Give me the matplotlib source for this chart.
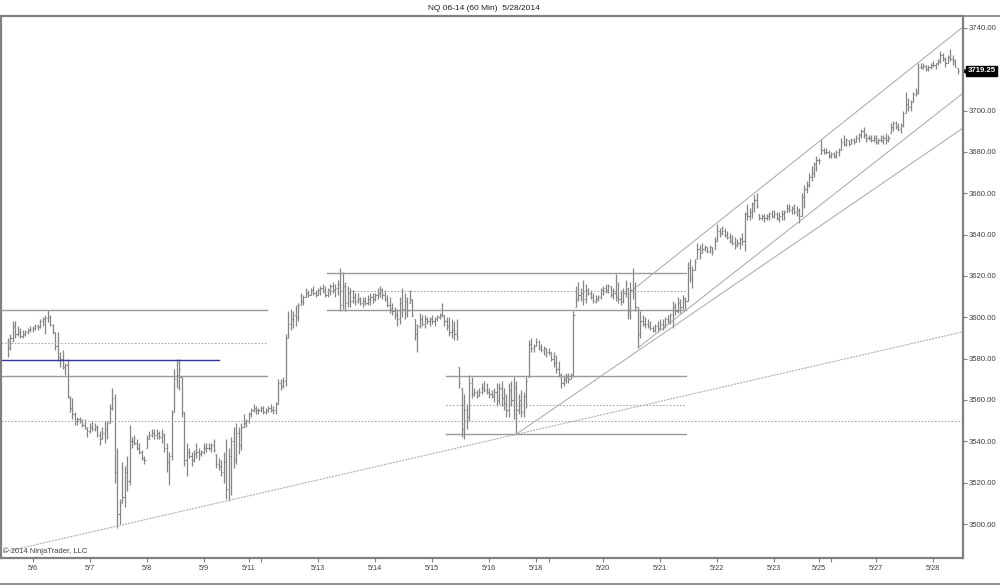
import numpy as np
import matplotlib.pyplot as plt
from matplotlib.lines import Line2D

plt.rcParams['font.family'] = ['Liberation Sans', 'DejaVu Sans']

# 60 min bars NQ 06-14, 5/5 - 5/28/2014
bar_open = [
    3588, 3585, 3590, 3596, 3592, 3593, 3591, 3592, 3593, 3594,
    3594.5, 3595, 3596, 3595.5, 3598, 3599, 3599.5, 3600, 3596.5, 3593,
    3586, 3581, 3580, 3576, 3577, 3561, 3556, 3553, 3550, 3551,
    3550, 3548, 3546, 3545, 3547, 3546, 3547, 3543, 3541, 3544,
    3546, 3549, 3556, 3561, 3525, 3505, 3510, 3513, 3525, 3521,
    3540, 3540, 3539, 3537, 3535, 3532, 3537, 3541, 3543, 3544,
    3543, 3544, 3542, 3543, 3537, 3530, 3533, 3554, 3570, 3572,
    3571, 3554, 3531, 3535, 3533, 3531, 3534, 3535, 3534, 3535,
    3537, 3537, 3537, 3538, 3534, 3529, 3528, 3525, 3530, 3517,
    3533, 3540, 3531, 3544, 3538, 3547, 3549, 3550, 3553, 3555,
    3556, 3555, 3555, 3556, 3554, 3555, 3556, 3555, 3555, 3558,
    3568, 3567, 3569, 3590, 3597, 3599, 3601, 3600, 3606, 3608,
    3610, 3612, 3611, 3613, 3612, 3611, 3613, 3614, 3613, 3611,
    3613, 3615, 3613, 3614, 3616, 3606, 3615, 3607, 3612, 3608,
    3610, 3608, 3609, 3607, 3608, 3607, 3609, 3610, 3609, 3611,
    3612, 3613, 3611, 3609, 3606, 3604, 3603, 3601, 3599, 3607,
    3604, 3608, 3607, 3609, 3599, 3592, 3596, 3599, 3597, 3599,
    3598, 3599, 3598, 3599, 3600, 3601, 3601, 3598, 3596, 3593,
    3594, 3592, 3576, 3566, 3546, 3555, 3552, 3568, 3563, 3564,
    3562, 3564, 3566, 3565, 3564, 3563, 3562, 3564, 3560, 3566,
    3561, 3558, 3555, 3565, 3560, 3566, 3555, 3560, 3554, 3562,
    3571, 3587, 3585, 3586, 3588, 3585, 3584, 3585, 3583, 3583,
    3580, 3578, 3575, 3572, 3568, 3570, 3571, 3570, 3572, 3605,
    3609, 3611, 3612, 3609, 3613, 3612, 3610, 3608, 3609, 3610,
    3613, 3614, 3613, 3615, 3611, 3612, 3610, 3609, 3608, 3612,
    3614, 3603, 3613, 3614, 3605, 3592, 3598, 3597, 3597, 3596,
    3595, 3594, 3596, 3595, 3597, 3596, 3599, 3598, 3601, 3605,
    3603, 3607, 3605, 3609, 3608, 3624, 3619, 3623, 3628, 3633,
    3631, 3633, 3634, 3632, 3634, 3633, 3637, 3642, 3641, 3642,
    3640, 3639, 3637, 3636, 3635, 3636, 3638, 3637, 3650, 3649,
    3651, 3655, 3657, 3650, 3648, 3649, 3648, 3649, 3650, 3649,
    3650, 3648, 3649, 3650, 3651, 3653, 3652, 3653, 3651, 3652,
    3649, 3658, 3662, 3664, 3668, 3670, 3674, 3676, 3679, 3681,
    3680, 3680, 3678, 3679, 3678, 3680, 3681, 3685, 3684, 3686,
    3684, 3686, 3685, 3687, 3688, 3690, 3688, 3687, 3687, 3686,
    3687, 3685, 3686, 3686, 3687, 3686, 3689, 3692, 3694, 3692,
    3691, 3693, 3699, 3703, 3702, 3704, 3708, 3709, 3721, 3721,
    3721.5, 3720, 3721, 3722, 3722, 3723, 3724, 3727, 3725, 3723,
    3726, 3725, 3724, 3720.5,
]
bar_high = [
    3590, 3592, 3598, 3598, 3596, 3595, 3594, 3594, 3595, 3596,
    3596, 3597, 3597, 3599, 3600, 3601, 3603.75, 3601, 3597, 3593,
    3593, 3583, 3584, 3578, 3580, 3562, 3561, 3554, 3552, 3552,
    3551, 3551, 3547, 3549, 3550, 3549, 3548, 3545, 3547, 3550,
    3550, 3558, 3566, 3563, 3537, 3512, 3530, 3528, 3533, 3548,
    3542, 3543, 3541, 3539, 3536, 3533, 3543, 3545, 3546, 3546,
    3546, 3545, 3546, 3544, 3539, 3535, 3555, 3575, 3580, 3580,
    3571, 3554, 3539, 3537, 3535, 3536, 3539, 3537, 3536, 3539,
    3539, 3539, 3539, 3541, 3534, 3532, 3531, 3535, 3541, 3537,
    3542, 3547, 3549, 3547, 3549, 3553, 3551, 3554, 3556, 3558,
    3557, 3556, 3557, 3557, 3556, 3557, 3558, 3557, 3559, 3570,
    3570, 3571, 3592, 3603, 3604, 3603, 3606, 3607, 3612, 3611,
    3614, 3613, 3614, 3615, 3613, 3614, 3615, 3616, 3615, 3614,
    3616, 3617, 3616, 3618, 3624, 3622, 3617, 3615, 3614, 3613,
    3612, 3612, 3610, 3610, 3610, 3611, 3612, 3612, 3612, 3614,
    3615, 3614, 3613, 3611, 3610, 3607, 3605, 3604, 3610, 3614,
    3612, 3610, 3613, 3609, 3599, 3597, 3602, 3601, 3601, 3600,
    3600, 3601, 3600, 3601, 3602, 3607, 3601, 3600, 3600, 3599,
    3598, 3599, 3576, 3566, 3563, 3558, 3572, 3571, 3566, 3565,
    3566, 3568, 3569, 3568, 3566, 3565, 3566, 3568, 3568, 3569,
    3566, 3563, 3568, 3569, 3571, 3569, 3563, 3565, 3564, 3571,
    3589, 3590, 3587, 3590, 3589, 3587, 3586, 3585, 3585, 3583,
    3583, 3582, 3579, 3573, 3572, 3573, 3573, 3573, 3603, 3615,
    3617, 3614, 3618, 3616, 3614, 3613, 3612, 3611, 3611, 3614,
    3615, 3616, 3616, 3615, 3614, 3621, 3617, 3613, 3614, 3618,
    3614, 3617, 3624, 3617, 3605, 3603, 3601, 3600, 3599, 3598,
    3596, 3597, 3598, 3599, 3599, 3600, 3601, 3602, 3608, 3607,
    3610, 3609, 3611, 3610, 3627, 3628, 3625, 3628, 3636, 3635,
    3636, 3635, 3634, 3635, 3634, 3639, 3645, 3643, 3644, 3643,
    3642, 3641, 3640, 3639, 3638, 3639, 3641, 3651, 3655, 3653,
    3656, 3659, 3660, 3650, 3650, 3650, 3650, 3651, 3652, 3652,
    3651, 3651, 3652, 3652, 3655, 3655, 3654, 3655, 3654, 3653,
    3660, 3664, 3666, 3670, 3673, 3675, 3678, 3677, 3686.5, 3682,
    3682, 3681, 3680, 3680, 3681, 3682, 3687, 3688, 3687, 3686,
    3687, 3687, 3688, 3689, 3691, 3692, 3689, 3688, 3688, 3688,
    3688, 3687, 3688, 3688, 3689, 3688, 3694, 3695, 3695, 3694,
    3694, 3700, 3709, 3706, 3705, 3709, 3711, 3723, 3723, 3723,
    3722, 3722, 3723, 3724, 3723, 3725, 3729, 3728, 3726, 3727,
    3730, 3727, 3725, 3720.5,
]
bar_low = [
    3581, 3584, 3588, 3590, 3591, 3590, 3590, 3591, 3592, 3593,
    3593, 3594, 3594, 3595, 3596, 3592, 3597.5, 3596, 3592, 3584,
    3579, 3576, 3575, 3572, 3561, 3554, 3551, 3548, 3548, 3549,
    3547, 3546, 3542, 3544, 3545, 3545, 3542, 3538, 3541, 3539,
    3541, 3549, 3555, 3520, 3498, 3500, 3510, 3508, 3516, 3519,
    3537, 3538, 3536, 3534, 3531, 3529, 3537, 3541, 3542, 3541,
    3541, 3541, 3539, 3535, 3525, 3519, 3531, 3554, 3566, 3565,
    3552, 3528, 3523, 3532, 3528, 3530, 3532, 3531, 3533, 3534,
    3535, 3536, 3535, 3535, 3527, 3526, 3523, 3520, 3512, 3511,
    3514, 3527, 3529, 3534, 3536, 3547, 3547, 3549, 3552, 3554,
    3553, 3553, 3554, 3553, 3553, 3554, 3554, 3553, 3553, 3558,
    3565, 3566, 3567, 3590, 3594, 3595, 3596, 3598, 3606, 3606,
    3610, 3610, 3611, 3611, 3610, 3611, 3611, 3612, 3610, 3610,
    3611, 3612, 3610, 3611, 3603, 3604, 3603, 3605, 3605, 3607,
    3606, 3607, 3606, 3605, 3606, 3606, 3606, 3607, 3608, 3609,
    3610, 3609, 3608, 3605, 3602, 3601, 3599, 3596, 3597, 3600,
    3599, 3600, 3607, 3600, 3589, 3583, 3595, 3596, 3595, 3597,
    3596, 3597, 3596, 3598, 3599, 3600, 3596, 3594, 3591, 3590,
    3589, 3589, 3566, 3542, 3541, 3546, 3550, 3561, 3562, 3561,
    3562, 3563, 3564, 3563, 3561, 3561, 3559, 3557, 3558, 3557,
    3555, 3552, 3552, 3557, 3551, 3543.75, 3553, 3552, 3552, 3556,
    3571, 3583, 3583, 3586, 3584, 3583, 3582, 3581, 3582, 3579,
    3576, 3573, 3571, 3566, 3567, 3568, 3568, 3570, 3571, 3605,
    3608, 3608, 3606, 3607, 3611, 3609, 3607, 3607, 3608, 3609,
    3611, 3612, 3612, 3610, 3609, 3608, 3607, 3606, 3607, 3610,
    3599, 3599, 3609, 3603, 3585, 3590, 3596, 3595, 3595, 3594,
    3593, 3593, 3593, 3594, 3594, 3595, 3597, 3597, 3595, 3601,
    3602, 3602, 3604, 3604, 3608, 3617, 3614, 3623, 3628, 3628,
    3631, 3632, 3631, 3631, 3630, 3633, 3637, 3639, 3640, 3639,
    3638, 3636, 3635, 3633, 3634, 3633, 3635, 3632, 3647, 3647,
    3648, 3651, 3653, 3647, 3647, 3646, 3647, 3647, 3648, 3648,
    3647, 3646, 3647, 3647, 3651, 3651, 3650, 3650, 3649, 3645.5,
    3649, 3653, 3660, 3663, 3666, 3668, 3671, 3674, 3679, 3679,
    3679, 3677, 3677, 3677, 3677, 3678, 3681, 3683, 3683, 3683,
    3684, 3684, 3685, 3685, 3687, 3687, 3685, 3686, 3685, 3685,
    3684, 3684, 3685, 3684, 3684, 3685, 3689, 3690, 3691, 3690,
    3689, 3692, 3699, 3700, 3700, 3704, 3707, 3708, 3720, 3720,
    3719, 3719, 3720, 3721, 3720, 3722, 3723, 3724, 3721, 3723,
    3724, 3722, 3721, 3717.5,
]
bar_close = [
    3585, 3590, 3596, 3592, 3593, 3591, 3592, 3593, 3594, 3594.5,
    3595, 3596, 3595.5, 3598, 3599, 3599.5, 3600, 3596.5, 3593, 3586,
    3581, 3580, 3576, 3577, 3562, 3556, 3553, 3550, 3551, 3550,
    3548, 3547, 3545, 3547, 3546, 3547, 3543, 3541, 3544, 3546,
    3549, 3556, 3561, 3525, 3505, 3509, 3513, 3525, 3521, 3540,
    3540, 3539, 3537, 3535, 3532, 3531, 3541, 3543, 3544, 3543,
    3544, 3542, 3543, 3537, 3530, 3533, 3553, 3570, 3572, 3575,
    3554, 3531, 3535, 3533, 3531, 3534, 3535, 3534, 3535, 3537,
    3537, 3537, 3538, 3536, 3529, 3528, 3525, 3530, 3517, 3533,
    3540, 3531, 3544, 3538, 3547, 3549, 3550, 3553, 3555, 3556,
    3555, 3555, 3556, 3554, 3555, 3556, 3555, 3555, 3558, 3568,
    3567, 3569, 3590, 3597, 3599, 3601, 3600, 3606, 3608, 3610,
    3612, 3611, 3613, 3612, 3611, 3613, 3614, 3613, 3611, 3613,
    3615, 3613, 3614, 3616, 3606, 3615, 3607, 3612, 3608, 3610,
    3608, 3609, 3607, 3608, 3607, 3609, 3610, 3609, 3611, 3612,
    3613, 3611, 3609, 3606, 3604, 3603, 3601, 3599, 3607, 3604,
    3608, 3603, 3609, 3601, 3592, 3596, 3599, 3597, 3599, 3598,
    3599, 3598, 3599, 3600, 3601, 3601, 3598, 3596, 3593, 3594,
    3592, 3591, 3568, 3546, 3555, 3552, 3568, 3563, 3564, 3562,
    3564, 3566, 3565, 3564, 3563, 3562, 3564, 3560, 3566, 3561,
    3558, 3555, 3565, 3560, 3566, 3555, 3560, 3554, 3562, 3569,
    3587, 3585, 3586, 3588, 3585, 3584, 3585, 3583, 3583, 3580,
    3578, 3575, 3572, 3568, 3570, 3571, 3570, 3572, 3601, 3609,
    3611, 3612, 3609, 3613, 3612, 3610, 3608, 3609, 3610, 3613,
    3614, 3613, 3615, 3611, 3612, 3610, 3609, 3608, 3612, 3616,
    3603, 3613, 3614, 3605, 3592, 3598, 3597, 3597, 3596, 3595,
    3594, 3596, 3595, 3597, 3596, 3599, 3598, 3601, 3605, 3603,
    3607, 3605, 3609, 3608, 3624, 3619, 3623, 3627, 3633, 3631,
    3633, 3634, 3632, 3634, 3632, 3637, 3642, 3641, 3642, 3640,
    3639, 3637, 3636, 3635, 3636, 3638, 3637, 3650, 3649, 3651,
    3655, 3657, 3654, 3648, 3649, 3648, 3649, 3650, 3649, 3650,
    3648, 3649, 3650, 3651, 3653, 3652, 3653, 3651, 3652, 3647,
    3658, 3662, 3664, 3668, 3670, 3674, 3676, 3676, 3681, 3680,
    3680, 3678, 3679, 3678, 3680, 3681, 3685, 3684, 3686, 3684,
    3686, 3685, 3687, 3688, 3690, 3688, 3687, 3687, 3686, 3687,
    3685, 3686, 3686, 3687, 3686, 3687, 3692, 3694, 3692, 3691,
    3693, 3699, 3703, 3702, 3704, 3708, 3709, 3721, 3721, 3721.5,
    3720, 3721, 3722, 3722, 3723, 3724, 3727, 3725, 3723, 3726,
    3725, 3724, 3721, 3719.25,
]

# x axis: bar index where each date starts
date_labels = ['5/6', '5/7', '5/8', '5/9', '5/11', '5/13', '5/14', '5/15', '5/16',
               '5/18', '5/20', '5/21', '5/22', '5/23', '5/25', '5/27', '5/28']
date_bars = [10, 33, 56, 79, 97, 125, 148, 171, 194, 213, 240, 263, 286, 309, 327, 350, 373]
unlabeled_bars = [102, 218, 332]

price_ticks = [3500, 3520, 3540, 3560, 3580, 3600, 3620, 3640, 3660, 3680, 3700, 3720, 3740]
last_price = 3719.25

# horizontal levels (price, first bar, last bar)
solid_levels = [3603.75, 3571.75, 3621.25, 3603.75, 3571.5, 3543.5]
solid_from = [-3, -3, 128.5, 128.5, 176.5, 176.5]
solid_to = [104.5, 104.5, 273.5, 273.5, 273.5, 273.5]
dotted_levels = [3587.75, 3612.5, 3557.5, 3550]
dotted_from = [-3, 128.5, 176.5, -3]
dotted_to = [104.5, 273.5, 273.5, 386]
blue_level = 3579.5
blue_to = 85

# trend lines (bar, price) -> (bar, price)
trend_x0 = [-3.2, 205, 254, 253.5]
trend_y0 = [3486, 3543.5, 3585.2, 3614.8]
trend_x1 = [385.1, 385.1, 385.1, 385.1]
trend_y1 = [3593, 3691.6, 3708.5, 3740.5]

fig = plt.figure(figsize=(10, 5.86), dpi=100)
ax = fig.add_axes([0.001, 28 / 586, 0.962, 542 / 586])

bar_color = '#858585'
idx = np.arange(len(bar_close))
ax.vlines(idx, bar_low, bar_high, color=bar_color, lw=0.9)
ax.hlines(bar_open, idx - 0.45, idx, color=bar_color, lw=0.8)
ax.hlines(bar_close, idx, idx + 0.45, color=bar_color, lw=0.8)

for p, a, b in zip(solid_levels, solid_from, solid_to):
    ax.plot([a, b], [p, p], color='#999999', lw=1.0)
for p, a, b in zip(dotted_levels, dotted_from, dotted_to):
    ax.plot([a, b], [p, p], color='#a8a8a8', lw=0.8, linestyle=(0, (1.5, 1.5)))
ax.plot([-3, blue_to], [blue_level, blue_level], color='#36369a', lw=1.0)

for k in range(len(trend_x0)):
    ls = (0, (2, 1)) if k == 0 else '-'
    ax.plot([trend_x0[k], trend_x1[k]], [trend_y0[k], trend_y1[k]],
            color='#ababab', lw=0.75, linestyle=ls)

ax.set_xlim(-2.82, 385.08)
ax.set_ylim(3483.55, 3745.8)

# axes styling
for s in ['top', 'left', 'bottom', 'right']:
    ax.spines[s].set_color('#808080')
    ax.spines[s].set_linewidth(1.6)

ax.yaxis.tick_right()
ax.set_yticks(price_ticks)
ax.set_yticklabels(['' if p == 3720 else f'{p:.2f}' for p in price_ticks])
ax.tick_params(axis='y', length=3, width=0.8, color='#808080', labelsize=5.6,
               labelcolor='#404040', pad=1)

ax.set_xticks(date_bars)
ax.set_xticklabels(date_labels)
ax.set_xticks(unlabeled_bars, minor=True)
ax.tick_params(axis='x', which='both', length=3, width=0.8, color='#808080',
               labelsize=5.3, labelcolor='#404040', pad=2)

# last price marker
ax.text(1.0045, last_price, f'{last_price:.2f}', transform=ax.get_yaxis_transform(),
        ha='left', va='center', fontsize=5.6, color='white', fontweight='bold',
        bbox=dict(boxstyle='square,pad=0.2', fc='black', ec='black'))
ax.plot([1.002], [last_price], marker='<', ms=3.5, color='black',
        transform=ax.get_yaxis_transform(), clip_on=False)

ax.text(0.002, 0.006, '\u00a9 2014 NinjaTrader, LLC', transform=ax.transAxes,
        fontsize=5.5, color='#404040', ha='left', va='bottom')

fig.text(0.484, 1 - 8 / 586, 'NQ 06-14 (60 Min)  5/28/2014', ha='center', va='center',
         fontsize=6, color='#202020')

# outer frame lines
fig.add_artist(Line2D([0, 1], [1 - 16 / 586] * 2, color='#808080', lw=1.2))
fig.add_artist(Line2D([0, 1], [2 / 586] * 2, color='#808080', lw=1.2))

fig.savefig('out.png', dpi=100, facecolor='white')
